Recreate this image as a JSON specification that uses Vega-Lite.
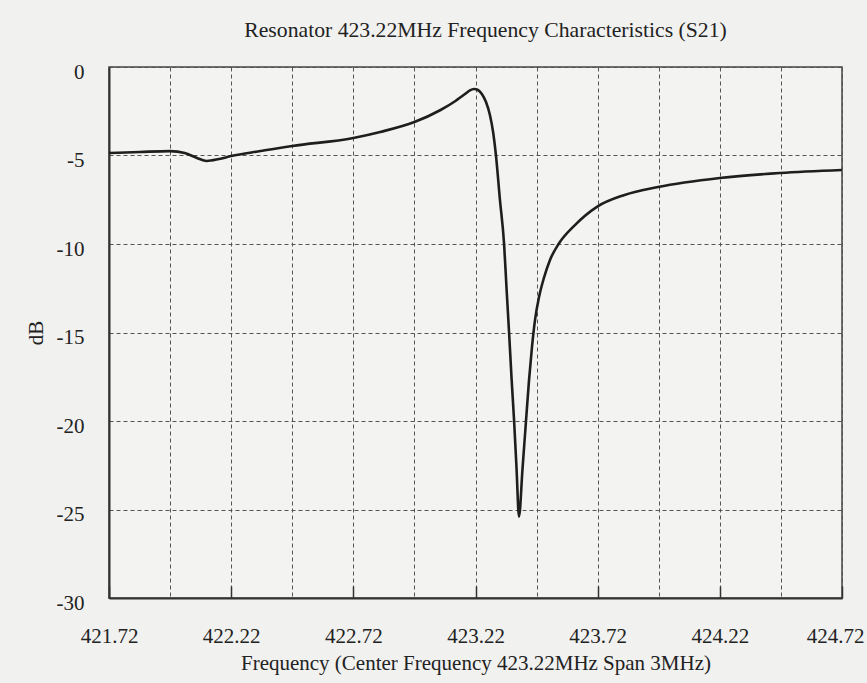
{
  "$schema": "https://vega.github.io/schema/vega-lite/v6.json",
  "width": 733,
  "height": 531,
  "autosize": "none",
  "padding": {"left": 109, "top": 67, "right": 25, "bottom": 85},
  "background": "#f1f1f0",
  "config": {
    "view": {"stroke": "#444", "strokeWidth": 1.5, "fill": "#f3f3f2"},
    "font": "Liberation Serif"
  },
  "title": {
    "text": "Resonator 423.22MHz Frequency Characteristics (S21)",
    "font": "Liberation Serif",
    "fontSize": 21.7,
    "fontWeight": "normal",
    "color": "#222",
    "dx": 10,
    "offset": 19
  },
  "data": {
    "values": [
      {"f": 421.72, "db": -4.86},
      {"f": 421.847, "db": -4.80},
      {"f": 421.97, "db": -4.75},
      {"f": 422.03, "db": -4.86},
      {"f": 422.08, "db": -5.14},
      {"f": 422.12, "db": -5.31},
      {"f": 422.17, "db": -5.20},
      {"f": 422.22, "db": -5.03},
      {"f": 422.34, "db": -4.75},
      {"f": 422.47, "db": -4.46},
      {"f": 422.72, "db": -4.01},
      {"f": 422.83, "db": -3.67},
      {"f": 422.97, "db": -3.11},
      {"f": 423.077, "db": -2.43},
      {"f": 423.138, "db": -1.92},
      {"f": 423.177, "db": -1.53},
      {"f": 423.197, "db": -1.32},
      {"f": 423.214, "db": -1.24},
      {"f": 423.23, "db": -1.30},
      {"f": 423.246, "db": -1.53},
      {"f": 423.263, "db": -1.98},
      {"f": 423.279, "db": -2.71},
      {"f": 423.292, "db": -3.67},
      {"f": 423.304, "db": -5.03},
      {"f": 423.32, "db": -7.50},
      {"f": 423.337, "db": -10.0},
      {"f": 423.347, "db": -12.5},
      {"f": 423.3574, "db": -15.0},
      {"f": 423.3676, "db": -17.6},
      {"f": 423.378, "db": -20.0},
      {"f": 423.388, "db": -22.7},
      {"f": 423.398, "db": -25.4},
      {"f": 423.4124, "db": -22.7},
      {"f": 423.4267, "db": -20.0},
      {"f": 423.439, "db": -17.7},
      {"f": 423.4513, "db": -15.8},
      {"f": 423.4635, "db": -14.3},
      {"f": 423.48, "db": -13.0},
      {"f": 423.5004, "db": -11.9},
      {"f": 423.5249, "db": -10.9},
      {"f": 423.56, "db": -10.0},
      {"f": 423.627, "db": -8.93},
      {"f": 423.717, "db": -7.90},
      {"f": 423.83, "db": -7.23},
      {"f": 423.967, "db": -6.78},
      {"f": 424.22, "db": -6.27},
      {"f": 424.466, "db": -5.99},
      {"f": 424.72, "db": -5.82}
    ]
  },
  "mark": {"type": "line", "color": "#1e1e1e", "strokeWidth": 2.6, "interpolate": "monotone"},
  "encoding": {
    "x": {
      "field": "f",
      "type": "quantitative",
      "scale": {"domain": [421.72, 424.72], "nice": false, "zero": false},
      "axis": {
        "values": [421.72, 421.97, 422.22, 422.47, 422.72, 422.97, 423.22, 423.47, 423.72, 423.97, 424.22, 424.47, 424.72],
        "grid": true,
        "gridDash": [4, 3],
        "gridColor": "#555",
        "gridWidth": 1,
        "gridOpacity": 1,
        "labelExpr": "indexof(['421.72','422.22','422.72','423.22','423.72','424.22','424.72'], format(datum.value, '.2f')) >= 0 ? format(datum.value, '.2f') : ''",
        "ticks": true,
        "tickSize": -12,
        "tickColor": "#333",
        "tickWidth": 1.5,
        "tickOpacity": {"condition": {"test": "indexof(['421.72','422.22','422.72','423.22','423.72','424.22','424.72'], format(datum.value, '.2f')) >= 0", "value": 1}, "value": 0},
        "labelPadding": 39,
        "labelOffset": {"condition": {"test": "datum.value > 424.7", "value": -7}, "value": 0},
        "labelFont": "Liberation Serif",
        "labelFontSize": 21,
        "labelColor": "#222",
        "labelOverlap": false,
        "labelFlush": false,
        "domainColor": "#333",
        "domainWidth": 2,
        "title": "Frequency (Center Frequency 423.22MHz Span 3MHz)",
        "titleFont": "Liberation Serif",
        "titleFontSize": 21,
        "titleFontWeight": "normal",
        "titleColor": "#222",
        "titlePadding": 6
      }
    },
    "y": {
      "field": "db",
      "type": "quantitative",
      "scale": {"domain": [-30, 0], "nice": false, "zero": false},
      "axis": {
        "values": [-30, -25, -20, -15, -10, -5, 0],
        "grid": true,
        "gridDash": [4, 3],
        "gridColor": "#555",
        "gridWidth": 1,
        "gridOpacity": 1,
        "ticks": false,
        "labelExpr": "datum.value < 0 ? '-' + abs(datum.value) : '0'",
        "labelPadding": 25,
        "labelOffset": 5,
        "labelFont": "Liberation Serif",
        "labelFontSize": 21,
        "labelColor": "#222",
        "labelOverlap": false,
        "labelFlush": false,
        "domainColor": "#333",
        "domainWidth": 2,
        "title": "dB",
        "titleFont": "Liberation Serif",
        "titleFontSize": 21,
        "titleFontWeight": "normal",
        "titleColor": "#222",
        "titlePadding": 10
      }
    }
  }
}
